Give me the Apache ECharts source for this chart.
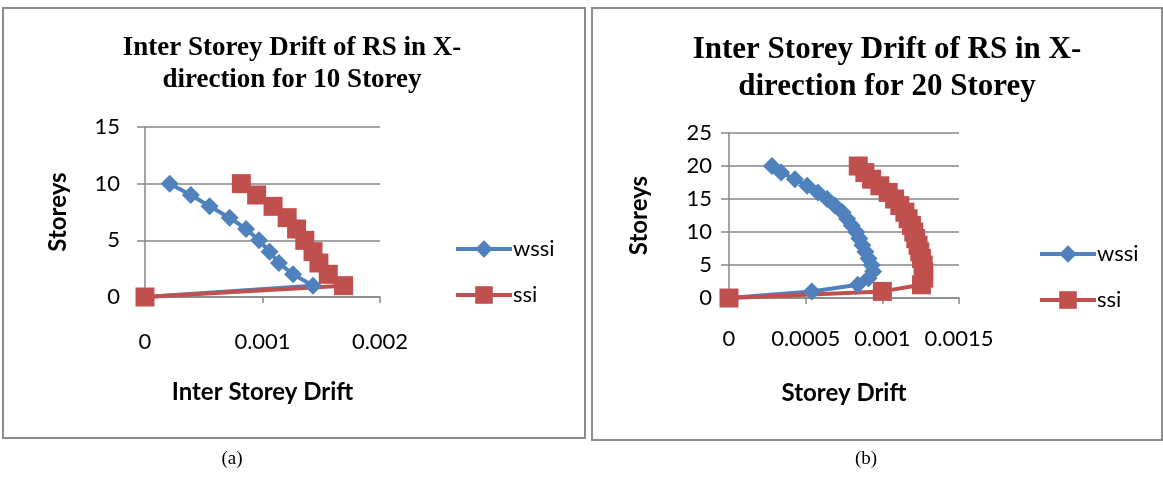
<!DOCTYPE html>
<html>
<head>
<meta charset="utf-8">
<script src="https://cdn.jsdelivr.net/npm/echarts@6/dist/echarts.min.js"></script>
<style>
  html, body { margin: 0; padding: 0; background: #fff; }
  #chart { width: 1163px; height: 495px; }
</style>
</head>
<body>
<div id="chart"></div>
<script>
// (a) 10 storey
const storeys10 = [0, 1, 2, 3, 4, 5, 6, 7, 8, 9, 10]
const wssi10 = [0, 0.00143, 0.00126, 0.00114, 0.00106, 0.00097, 0.00086, 0.00072, 0.00055, 0.00039, 0.00021]
const ssi10 = [0, 0.00169, 0.00156, 0.00148, 0.00143, 0.00136, 0.00129, 0.00121, 0.00109, 0.00095, 0.00082]

// (b) 20 storey
const storeys20 = [0, 1, 2, 3, 4, 5, 6, 7, 8, 9, 10, 11, 12, 13, 14, 15, 16, 17, 18, 19, 20]
const wssi20 = [0, 0.00054, 0.00084, 0.00091, 0.00094, 0.00093, 0.00091, 0.00089, 0.00087, 0.00085, 0.00083,
  0.0008, 0.00077, 0.00074, 0.00069, 0.00064, 0.00058, 0.00051, 0.00043, 0.00034, 0.00028]
const ssi20 = [0, 0.001, 0.001255, 0.00127, 0.00127, 0.001266, 0.001255, 0.001244, 0.001233, 0.001218, 0.001205,
  0.00119, 0.001168, 0.001147, 0.001114, 0.00108, 0.001038, 0.000984, 0.00093, 0.000886, 0.000843]

const xTicks10 = { min: 0, max: 0.002, interval: 0.001 }
const xTicks20 = { min: 0, max: 0.0015, interval: 0.0005 }
const yTicks10 = { min: 0, max: 15, interval: 5 }
const yTicks20 = { min: 0, max: 25, interval: 5 }

const BLUE = '#4F81BD'
const RED = '#C0504D'
const GRID = '#868686'
const SANS = 'Lato'
const SERIF = 'Liberation Serif'

const pairs = (xs, ys) => xs.map((x, i) => [x, ys[i]])

const xAxisOf = (ticks, idx, name, margin, nameGap) => ({
  type: 'value',
  gridIndex: idx,
  min: ticks.min,
  max: ticks.max,
  interval: ticks.interval,
  name: name,
  nameLocation: 'middle',
  nameGap: nameGap,
  nameTextStyle: { color: '#000', fontFamily: SANS, fontWeight: 'bold', fontSize: 24 },
  axisLine: { show: true, lineStyle: { color: GRID, width: 1.5 } },
  axisTick: { show: true, length: 6, lineStyle: { color: GRID, width: 1.5 } },
  axisLabel: { color: '#000', fontFamily: SANS, fontSize: 22, margin: margin },
  splitLine: { show: false }
})

const yAxisOf = (ticks, idx, margin, nameGap) => ({
  type: 'value',
  gridIndex: idx,
  min: ticks.min,
  max: ticks.max,
  interval: ticks.interval,
  name: 'Storeys',
  nameLocation: 'middle',
  nameGap: nameGap,
  nameRotate: 90,
  nameTextStyle: { color: '#000', fontFamily: SANS, fontWeight: 'bold', fontSize: 24 },
  axisLine: { show: true, lineStyle: { color: GRID, width: 1.5 } },
  axisTick: { show: true, length: 8, lineStyle: { color: GRID, width: 1.5 } },
  axisLabel: { color: '#000', fontFamily: SANS, fontSize: 22, margin: margin },
  splitLine: { show: true, lineStyle: { color: GRID, width: 1.5 } }
})

const lineSeries = (name, idx, data, color, symbol, size) => ({
  name: name,
  type: 'line',
  xAxisIndex: idx,
  yAxisIndex: idx,
  data: data,
  symbol: symbol,
  symbolSize: size,
  showAllSymbol: true,
  lineStyle: { color: color, width: 4 },
  itemStyle: { color: color },
  emphasis: { disabled: true },
  animation: false
})

const legendOf = (names, left, top) => ({
  orient: 'vertical',
  left: left,
  top: top,
  itemGap: 24,
  itemWidth: 56,
  itemHeight: 22,
  lineStyle: { width: 4 },
  textStyle: { color: '#000', fontFamily: SANS, fontSize: 22, padding: [0, 0, 0, -4] },
  data: names
})

const myChart = echarts.init(document.getElementById('chart'), null, { renderer: 'canvas' })

const option = {
  backgroundColor: '#fff',
  animation: false,
  title: [
    {
      text: 'Inter Storey Drift of RS in X-\ndirection for 10 Storey',
      left: 287,
      top: 27,
      textAlign: 'center',
      textStyle: { fontFamily: SERIF, fontWeight: 'bold', fontSize: 27, lineHeight: 32, color: '#000' }
    },
    {
      text: 'Inter Storey Drift of RS in X-\ndirection for 20 Storey',
      left: 882,
      top: 26,
      textAlign: 'center',
      textStyle: { fontFamily: SERIF, fontWeight: 'bold', fontSize: 31, lineHeight: 37, color: '#000' }
    }
  ],
  graphic: [
    { type: 'rect', shape: { x: 3, y: 8, width: 582, height: 430 }, style: { fill: null, stroke: '#8c8c8c', lineWidth: 2 } },
    { type: 'rect', shape: { x: 592, y: 8, width: 570, height: 432 }, style: { fill: null, stroke: '#8c8c8c', lineWidth: 2 } },
    { type: 'text', x: 232, y: 459, style: { text: '(a)', font: '19px "Liberation Serif"', fill: '#000', textAlign: 'center', textVerticalAlign: 'middle' } },
    { type: 'text', x: 866, y: 459, style: { text: '(b)', font: '19px "Liberation Serif"', fill: '#000', textAlign: 'center', textVerticalAlign: 'middle' } }
  ],
  legend: [legendOf(['wssi', 'ssi'], 449, 233), legendOf(['wssi ', 'ssi '], 1033, 238)],
  grid: [
    { left: 145, top: 127, width: 235, height: 170 },
    { left: 729, top: 133, width: 230, height: 165 }
  ],
  xAxis: [
    xAxisOf(xTicks10, 0, 'Inter Storey Drift', 34, 83),
    xAxisOf(xTicks20, 1, 'Storey Drift', 30, 83)
  ],
  yAxis: [
    yAxisOf(yTicks10, 0, 25, 75),
    yAxisOf(yTicks20, 1, 17, 78)
  ],
  series: [
    lineSeries('wssi', 0, pairs(wssi10, storeys10), BLUE, 'diamond', 18),
    lineSeries('ssi', 0, pairs(ssi10, storeys10), RED, 'rect', 19),
    lineSeries('wssi ', 1, pairs(wssi20, storeys20), BLUE, 'diamond', 18),
    lineSeries('ssi ', 1, pairs(ssi20, storeys20), RED, 'rect', 19)
  ]
}

myChart.setOption(option)
</script>
</body>
</html>
